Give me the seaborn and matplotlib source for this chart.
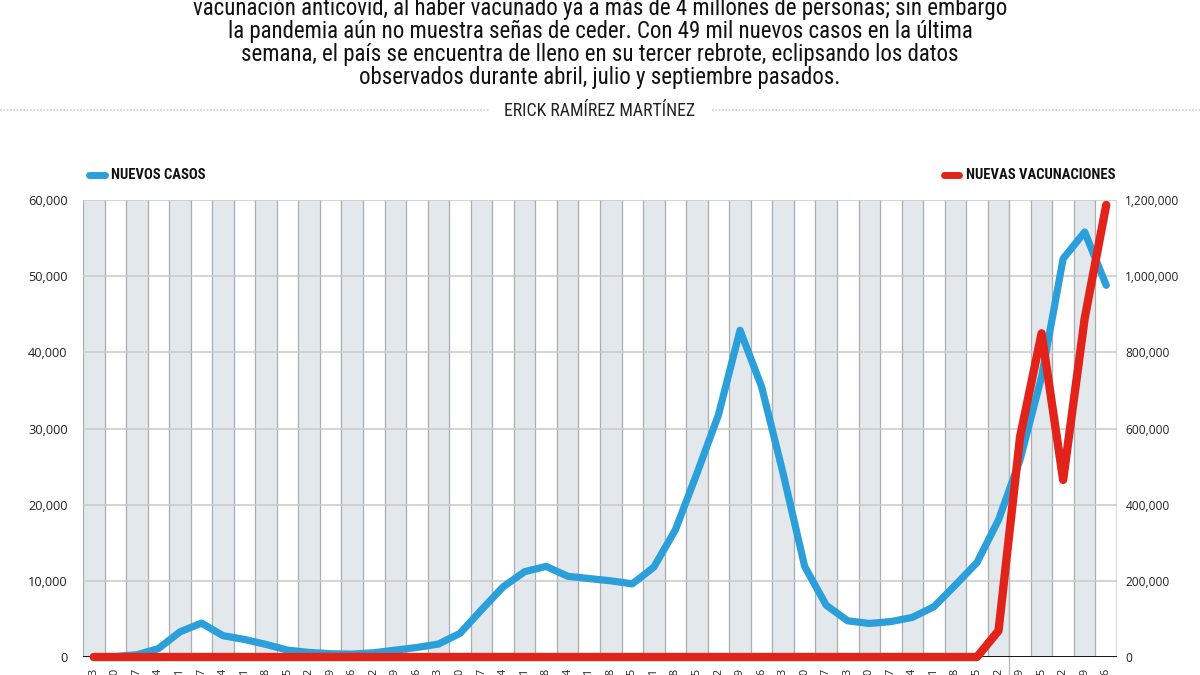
import numpy as np
import matplotlib.pyplot as plt
import seaborn as sns
from matplotlib import font_manager
from matplotlib.lines import Line2D
from matplotlib.ticker import FuncFormatter

# semanas (fecha de inicio de cada semana)
semanas = ['2020-03-03', '2020-03-10', '2020-03-17', '2020-03-24', '2020-03-31',
           '2020-04-07', '2020-04-14', '2020-04-21', '2020-04-28', '2020-05-05',
           '2020-05-12', '2020-05-19', '2020-05-26', '2020-06-02', '2020-06-09',
           '2020-06-16', '2020-06-23', '2020-06-30', '2020-07-07', '2020-07-14',
           '2020-07-21', '2020-07-28', '2020-08-04', '2020-08-11', '2020-08-18',
           '2020-08-25', '2020-09-01', '2020-09-08', '2020-09-15', '2020-09-22',
           '2020-09-29', '2020-10-06', '2020-10-13', '2020-10-20', '2020-10-27',
           '2020-11-03', '2020-11-10', '2020-11-17', '2020-11-24', '2020-12-01',
           '2020-12-08', '2020-12-15', '2020-12-22', '2020-12-29', '2021-01-05',
           '2021-01-12', '2021-01-19', '2021-01-26']

nuevos_casos = [0, 50, 300, 1100, 3300, 4450, 2800, 2300, 1650, 900,
                600, 430, 380, 560, 900, 1250, 1700, 3100, 6200, 9200,
                11200, 11900, 10600, 10300, 10000, 9600, 11800, 16700, 24100, 31800,
                42900, 35500, 24100, 11900, 6800, 4750, 4400, 4650, 5200, 6600,
                9450, 12400, 18000, 25900, 36800, 52300, 55800, 48800]

nuevas_vacunaciones = [0] * 42 + [69000, 578000, 850000, 465000, 889000, 1187000]

texto = ["vacunación anticovid, al haber vacunado ya a más de 4 millones de personas; sin embargo",
         "la pandemia aún no muestra señas de ceder. Con 49 mil nuevos casos en la última",
         "semana, el país se encuentra de lleno en su tercer rebrote, eclipsando los datos",
         "observados durante abril, julio y septiembre pasados."]
autor = 'ERICK RAMÍREZ MARTÍNEZ'

AZUL = '#2a9fd9'
ROJO = '#e2231a'
BANDA = '#e3e8ed'
LINEA = '#a9adb1'

sns.set_style('white')
plt.rcParams['font.family'] = ['Open Sans', 'DejaVu Sans']

# fuente estrecha si existe
instaladas = {f.name for f in font_manager.fontManager.ttflist}
narrow = None
for nombre in ['Roboto Condensed', 'Liberation Sans Narrow', 'DejaVu Sans Condensed',
               'Open Sans Condensed']:
    if nombre in instaladas:
        narrow = nombre
        break
if narrow:
    fam, esc = [narrow, 'DejaVu Sans'], 1.0
else:
    fam, esc = ['Roboto', 'DejaVu Sans'], 0.84

fig = plt.figure(figsize=(12, 6.75), dpi=100)
ax = fig.add_axes([83 / 1200, 1 - 657 / 675, (1117 - 83) / 1200, (657 - 200) / 675])
x = np.arange(len(semanas))

# bandas alternas y separadores
for i in x:
    if i % 2 == 0:
        ax.axvspan(i - 0.5, i + 0.5, color=BANDA, lw=0, zorder=0)
    ax.axvline(i - 0.5, color=LINEA, lw=0.9, zorder=1)
ax.axvline(len(semanas) - 0.5, color='#d0d0d0', lw=1.2, zorder=1)
for v in range(10000, 60001, 10000):
    ax.axhline(v, color='#c9c9c9', lw=1.1, zorder=1)
ax.axhline(0, color='black', lw=2, zorder=2)
ax.axvline(42.5, ymin=-0.05, ymax=1, color='#b5b5b5', lw=0.9, clip_on=False, zorder=1)

sns.lineplot(x=x, y=nuevos_casos, ax=ax, color=AZUL, linewidth=5.2,
             solid_joinstyle='round', solid_capstyle='round', clip_on=False, zorder=3)

ax.set_xlim(-0.5, len(semanas) - 0.5)
ax.set_ylim(0, 60000)
ax.set_yticks(range(0, 60001, 10000))
ax.yaxis.set_major_formatter(FuncFormatter(lambda v, p: f'{int(v):,}'))
ax.set_xticks(x)
ax.set_xticklabels(semanas, rotation=90, fontsize=8, color='#222222')
ax.tick_params(axis='both', length=0, colors='#222222')
ax.tick_params(axis='y', labelsize=9.2, pad=11)
ax.tick_params(axis='x', pad=8)
for s in ax.spines.values():
    s.set_visible(False)

ax2 = ax.twinx()
sns.lineplot(x=x, y=nuevas_vacunaciones, ax=ax2, color=ROJO, linewidth=6,
             solid_joinstyle='round', solid_capstyle='round', clip_on=False, zorder=4)
ax2.set_ylim(0, 1200000)
ax2.set_yticks(range(0, 1200001, 200000))
ax2.yaxis.set_major_formatter(FuncFormatter(lambda v, p: f'{int(v):,}'))
ax2.tick_params(axis='y', length=0, labelsize=8.6, colors='#222222', pad=6)
for s in ax2.spines.values():
    s.set_visible(False)

# texto superior
for k, linea in enumerate(texto):
    fig.text(0.5, 1 - (9 + 22.8 * k) / 675, linea, ha='center', va='center',
             fontsize=16.5 * esc, family=fam, color='#111111')
fig.text(0.5, 1 - 111 / 675, autor, ha='center', va='center',
         fontsize=12.8 * esc, family=fam, color='#222222')
fig.add_artist(Line2D([0, 490 / 1200], [1 - 110 / 675] * 2, color='#cccccc',
                      lw=1.2, ls=(0, (1, 1))))
fig.add_artist(Line2D([712 / 1200, 1], [1 - 110 / 675] * 2, color='#cccccc',
                      lw=1.2, ls=(0, (1, 1))))

# leyendas
yl = 1 - 175 / 675
fig.add_artist(Line2D([89 / 1200, 105 / 1200], [yl, yl], color=AZUL, lw=5,
                      solid_capstyle='round'))
fig.text(111 / 1200, yl, 'NUEVOS CASOS', ha='left', va='center', fontsize=10.5 * esc,
         fontweight='bold', family=fam, color='#111111')
fig.add_artist(Line2D([944 / 1200, 959 / 1200], [yl, yl], color=ROJO, lw=5,
                      solid_capstyle='round'))
fig.text(966 / 1200, yl, 'NUEVAS VACUNACIONES', ha='left', va='center',
         fontsize=10.5 * esc, fontweight='bold', family=fam, color='#111111')

fig.savefig('out.png', dpi=100)
